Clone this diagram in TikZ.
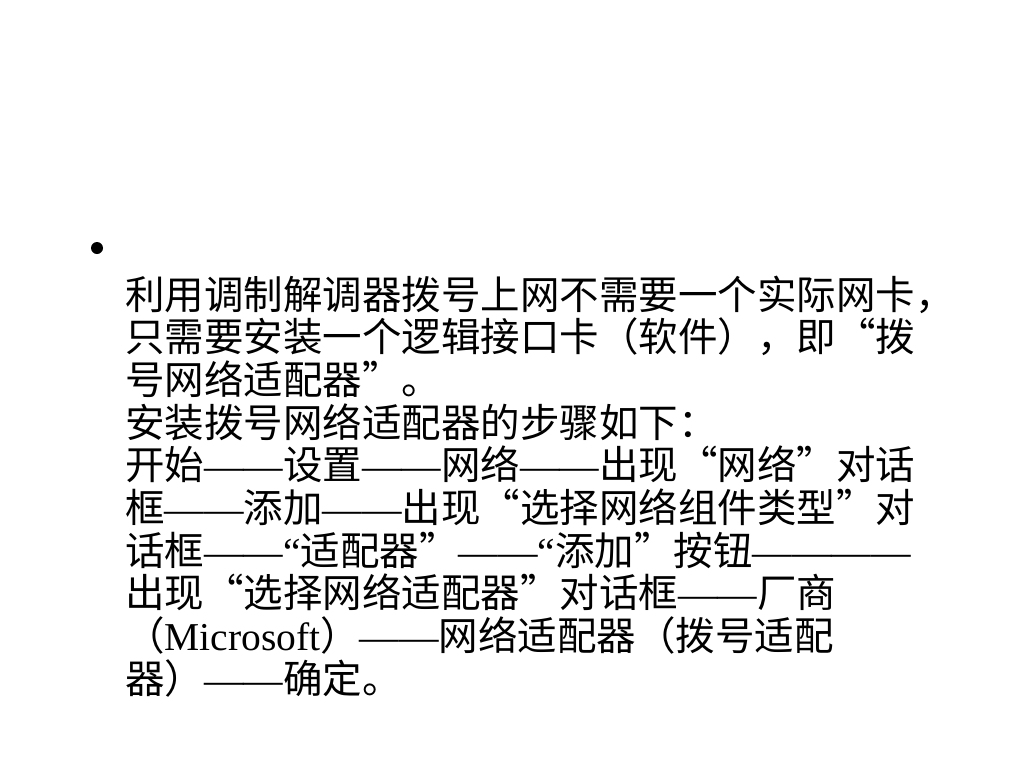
\documentclass[tikz,border=0pt]{standalone}
\usepackage{fontspec}
\setmainfont{Noto Sans CJK SC}
\newfontfamily\lat{Liberation Serif}
\newcommand\dd{{\lat ——}}
\tikzset{
  txt/.style={anchor=base west, inner sep=0pt, font=\fontsize{39.5pt}{42.7pt}\selectfont},
}
\begin{document}
\begin{tikzpicture}[x=1pt,y=1pt]
\useasboundingbox[fill=white] (0,0) rectangle (1024,-768);
\fill (97,-248) circle (6) coordinate (bullet);
\node[txt] (l1) at (125,-309) {利用调制解调器拨号上网不需要一个实际网卡，};
\node[txt] (l2) at (125,-351.7) {只需要安装一个逻辑接口卡（软件），即“拨};
\node[txt] (l3) at (125,-394.4) {号网络适配器”。};
\node[txt] (l4) at (125,-437.1) {安装拨号网络适配器的步骤如下：};
\node[txt] (l5) at (125,-479.8) {开始\dd 设置\dd 网络\dd 出现“网络”对话};
\node[txt] (l6) at (125,-522.5) {框\dd 添加\dd 出现“选择网络组件类型”对};
\node[txt] (l7) at (125,-565.2) {话框\dd{\lat “}适配器”\dd{\lat “}添加”按钮\dd\dd};
\node[txt] (l8) at (125,-607.9) {出现“选择网络适配器”对话框\dd 厂商};
\node[txt] (l9) at (125,-650.6) {（{\lat Microsoft}）\dd 网络适配器（拨号适配};
\node[txt] (l10) at (125,-693.3) {器）\dd 确定。};
\end{tikzpicture}
\end{document}
